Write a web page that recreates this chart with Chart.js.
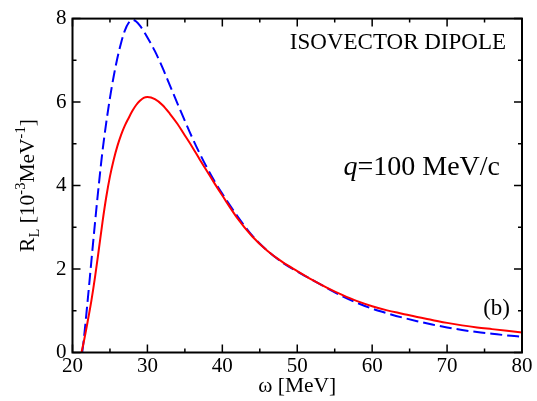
<!DOCTYPE html>
<html>
<head>
<meta charset="utf-8">
<script src="https://cdn.jsdelivr.net/npm/chart.js@4"></script>
<style>
  body { margin: 0; background: #fff; }
  #wrap { width: 537px; height: 401px; }
</style>
</head>
<body>
<div id="wrap"><canvas id="rl-chart"></canvas></div>
<script>
// excitation energy grid (MeV) and response values (10^-3 MeV^-1)
const omegaSolid = [21.2, 21.5, 22, 22.5, 23, 23.5, 24, 24.5, 25, 25.5, 26, 26.5, 27, 27.5, 28, 28.5, 29, 29.5, 30,
    31, 32, 33, 34, 35, 36, 37, 38, 39, 40, 42, 44, 46, 48, 50, 52, 54, 56, 58, 60, 62, 64, 66, 68, 70, 72, 74, 76, 78, 80];
const rlSolid = [0, 0.25, 0.72, 1.22, 1.8, 2.45, 3.12, 3.72, 4.22, 4.62, 4.95, 5.22, 5.44, 5.62, 5.79, 5.93, 6.03, 6.1, 6.12,
    6.07, 5.93, 5.72, 5.48, 5.2, 4.92, 4.62, 4.33, 4.04, 3.76, 3.22, 2.78, 2.44, 2.17, 1.95, 1.74, 1.55, 1.38, 1.23, 1.11,
    1.01, 0.93, 0.85, 0.78, 0.71, 0.65, 0.6, 0.56, 0.52, 0.48];

const omegaDashed = [21.3, 21.5, 22, 22.5, 23, 23.5, 24, 24.5, 25, 25.5, 26, 26.5, 27, 27.5, 28, 28.5, 29, 29.5, 30,
    31, 32, 33, 34, 35, 36, 37, 38, 39, 40, 42, 44, 46, 48, 50, 52, 54, 56, 58, 60, 62, 64, 66, 68, 70, 72, 74, 76, 78, 80];
const rlDashed = [0, 0.3, 1.2, 2.15, 3.1, 4.0, 4.82, 5.5, 6.1, 6.62, 7.06, 7.43, 7.72, 7.9, 7.97, 7.93, 7.83, 7.7, 7.55,
    7.22, 6.83, 6.4, 5.97, 5.55, 5.14, 4.76, 4.41, 4.09, 3.8, 3.27, 2.8, 2.44, 2.16, 1.94, 1.74, 1.54, 1.35, 1.19, 1.05,
    0.94, 0.84, 0.75, 0.67, 0.6, 0.54, 0.49, 0.45, 0.41, 0.38];

const xTicks = [20, 30, 40, 50, 60, 70, 80];
const yTicks = [0, 2, 4, 6, 8];

const SERIF = '"Liberation Serif", "DejaVu Serif", serif';

function toPoints(xs, ys) {
    return xs.map((x, i) => ({ x: x, y: ys[i] }));
}

// frame, inward ticks on all four sides, axis titles and labels
const decorations = {
    id: 'decorations',
    afterDraw(chart) {
        const ctx = chart.ctx;
        const area = chart.chartArea;
        const xs = chart.scales.x;
        const ys = chart.scales.y;
        const major = 8, minor = 4;

        ctx.save();
        ctx.strokeStyle = '#000';
        ctx.lineWidth = 1.5;
        for (let v = 20; v <= 80; v += 5) {
            const px = xs.getPixelForValue(v);
            const len = v % 10 === 0 ? major : minor;
            ctx.beginPath();
            ctx.moveTo(px, area.bottom); ctx.lineTo(px, area.bottom - len);
            ctx.moveTo(px, area.top); ctx.lineTo(px, area.top + len);
            ctx.stroke();
        }
        for (let v = 0; v <= 8; v += 1) {
            const py = ys.getPixelForValue(v);
            const len = v % 2 === 0 ? major : minor;
            ctx.beginPath();
            ctx.moveTo(area.left, py); ctx.lineTo(area.left + len, py);
            ctx.moveTo(area.right, py); ctx.lineTo(area.right - len, py);
            ctx.stroke();
        }
        ctx.lineWidth = 2;
        ctx.strokeRect(area.left, area.top, area.right - area.left, area.bottom - area.top);

        ctx.fillStyle = '#000';
        ctx.textBaseline = 'alphabetic';

        // x title
        ctx.font = '21.5px ' + SERIF;
        ctx.textAlign = 'center';
        ctx.fillText('ω [MeV]', (area.left + area.right) / 2, 392);

        // y title with sub/superscripts, rotated
        const big = '21.5px ' + SERIF, small = '14.5px ' + SERIF;
        const parts = [
            ['R', big, 0], ['L', small, 5], [' [10', big, 0], ['-3', small, -9],
            ['MeV', big, 0], ['-1', small, -9], [']', big, 0]
        ];
        let total = 0;
        parts.forEach(p => { ctx.font = p[1]; total += ctx.measureText(p[0]).width; });
        ctx.translate(34, (area.top + area.bottom) / 2);
        ctx.rotate(-Math.PI / 2);
        ctx.textAlign = 'left';
        let cx = -total / 2;
        parts.forEach(p => {
            ctx.font = p[1];
            ctx.fillText(p[0], cx, p[2]);
            cx += ctx.measureText(p[0]).width;
        });
        ctx.restore();

        ctx.save();
        ctx.fillStyle = '#000';
        ctx.textAlign = 'right';
        ctx.font = '23px ' + SERIF;
        ctx.fillText('ISOVECTOR DIPOLE', 506, 49);
        ctx.font = '23px ' + SERIF;
        ctx.fillText('(b)', 510, 315);
        // q=100 MeV/c with italic q
        ctx.font = '28px ' + SERIF;
        const rest = '=100 MeV/c';
        const wRest = ctx.measureText(rest).width;
        ctx.fillText(rest, 500, 175);
        ctx.font = 'italic 28px ' + SERIF;
        ctx.fillText('q', 500 - wRest, 175);
        ctx.restore();
    }
};

new Chart(document.getElementById('rl-chart'), {
    type: 'line',
    data: {
        datasets: [
            {
                data: toPoints(omegaSolid, rlSolid),
                borderColor: '#ff0000',
                borderWidth: 2,
                pointRadius: 0,
                cubicInterpolationMode: 'monotone',
                fill: false
            },
            {
                data: toPoints(omegaDashed, rlDashed),
                borderColor: '#0000ff',
                borderWidth: 2,
                borderDash: [12, 5],
                pointRadius: 0,
                cubicInterpolationMode: 'monotone',
                fill: false
            }
        ]
    },
    options: {
        responsive: true,
        maintainAspectRatio: false,
        animation: false,
        layout: { padding: { top: 15, right: 15, left: 0, bottom: 0 } },
        plugins: {
            legend: { display: false },
            tooltip: { enabled: false }
        },
        scales: {
            x: {
                type: 'linear',
                min: 20,
                max: 80,
                afterBuildTicks: (scale) => { scale.ticks = xTicks.map(v => ({ value: v })); },
                afterFit: (scale) => { scale.height = 48.5; },
                grid: { display: false, drawTicks: false },
                border: { display: false },
                ticks: {
                    color: '#000',
                    padding: 1,
                    maxRotation: 0,
                    font: { family: SERIF, size: 21 }
                }
            },
            y: {
                min: 0,
                max: 8,
                afterBuildTicks: (scale) => { scale.ticks = yTicks.map(v => ({ value: v })); },
                afterFit: (scale) => { scale.width = 72.5; },
                grid: { display: false, drawTicks: false },
                border: { display: false },
                ticks: {
                    color: '#000',
                    padding: 6,
                    font: { family: SERIF, size: 21 }
                }
            }
        }
    },
    plugins: [decorations]
});
</script>
</body>
</html>
